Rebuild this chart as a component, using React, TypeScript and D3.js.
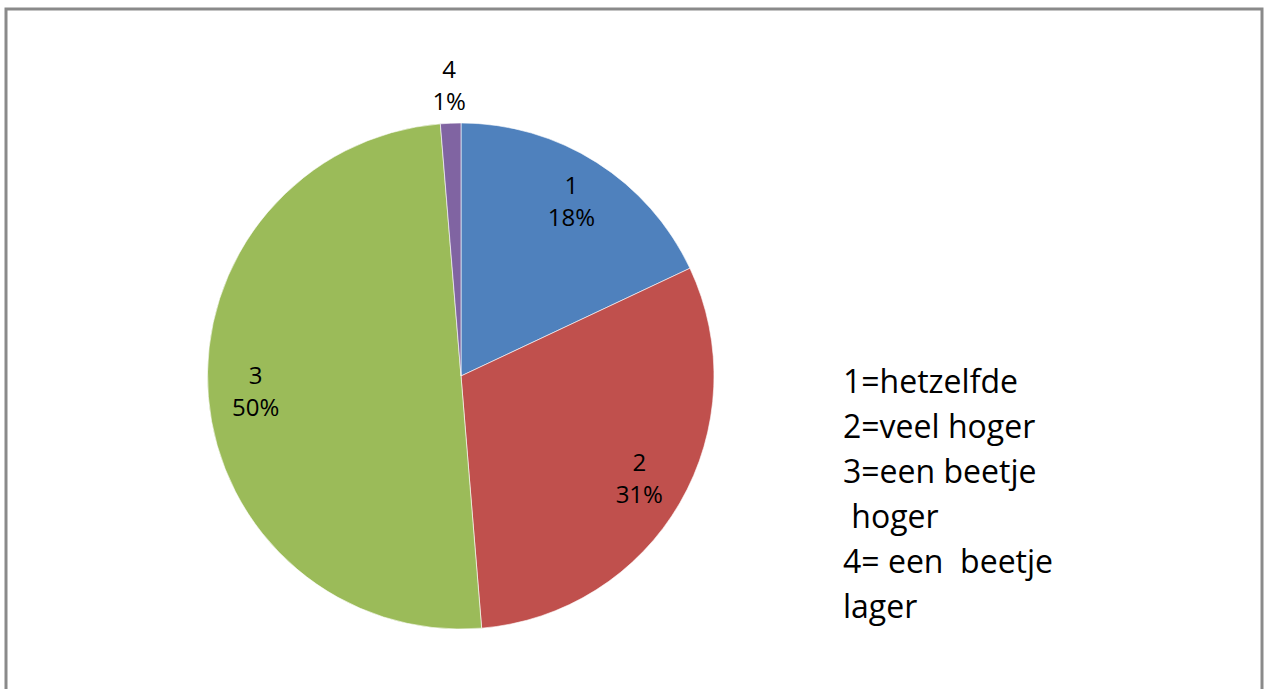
import React from "react";
import * as d3 from "d3";

const categories = ["1", "2", "3", "4"];
const values = [18.0, 30.7, 50.0, 1.3];
const colors = ["#4F81BD", "#C0504D", "#9BBB59", "#8064A2"];
const legendLines = ["1=hetzelfde", "2=veel hoger", "3=een beetje", " hoger", "4= een  beetje", "lager"];

export default function App() {
  const W = 1264, H = 689;
  const cx = 461, cy = 376, r = 253;
  const total = d3.sum(values);
  const pie = d3.pie<number>().sort(null).value((d) => d)(values);
  const arc = d3.arc<d3.PieArcDatum<number>>().innerRadius(0).outerRadius(r);
  const labelArc = d3.arc<d3.PieArcDatum<number>>().innerRadius(206).outerRadius(206);
  const outArc = d3.arc<d3.PieArcDatum<number>>().innerRadius(290).outerRadius(290);
  const font = "'Open Sans', sans-serif";
  return (
    <svg width={W} height={H} style={{ position: "absolute", left: 0, top: 0, background: "#fff" }}>
      <rect x={6} y={9} width={1256} height={720} fill="#fff" stroke="#8a8a8a" strokeWidth={3} />
      <g transform={`translate(${cx},${cy})`}>
        {pie.map((p, i) => (
          <path key={i} d={arc(p) || ""} fill={colors[i]} stroke="#ffffff" strokeWidth={0.6} />
        ))}
        {pie.map((p, i) => {
          const pct = (p.data / total) * 100;
          const [lx, ly] = pct < 5 ? outArc.centroid(p) : labelArc.centroid(p);
          return (
            <text key={i} x={lx} y={ly} textAnchor="middle" fontFamily={font} fontSize={24} fill="#000">
              <tspan x={lx} dy="-0.35em">{categories[i]}</tspan>
              <tspan x={lx} dy="1.333em">{`${Math.round(pct)}%`}</tspan>
            </text>
          );
        })}
      </g>
      <g fontFamily={font} fontSize={32} fill="#000">
        {legendLines.map((t, i) => (
          <text key={i} x={843} y={393 + i * 45} style={{ whiteSpace: "pre" }} xmlSpace="preserve">
            {t}
          </text>
        ))}
      </g>
    </svg>
  );
}
